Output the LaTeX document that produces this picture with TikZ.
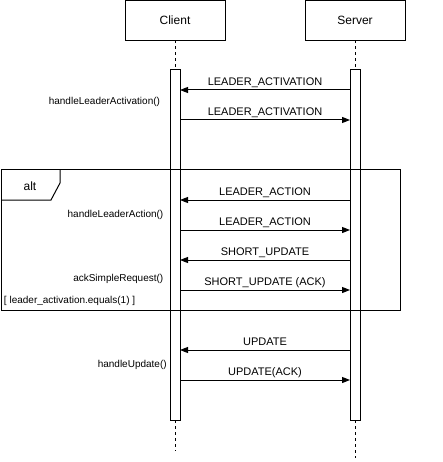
\documentclass[tikz,border=0pt]{standalone}
\usepackage{fontspec}
\setmainfont{Liberation Sans}
\usetikzlibrary{arrows.meta}
\begin{document}
\begin{tikzpicture}[x=1pt,y=-1pt,
  every node/.style={inner sep=0pt,outer sep=0pt},
  actor/.style={draw,line width=1pt,minimum width=100pt,minimum height=40pt,font=\fontsize{12}{14}\selectfont},
  actbar/.style={draw,fill=white,line width=1pt,minimum width=10pt,minimum height=350pt},
  lifeline/.style={line width=1pt,dash pattern=on 3pt off 3pt},
  msg/.style={line width=1pt,-{Triangle[length=8pt,width=6pt]}},
  msglabel/.style={font=\fontsize{11}{13}\selectfont,anchor=base},
  method/.style={font=\fontsize{10}{12}\selectfont,anchor=base east},
  framebox/.style={draw,line width=1pt}]
\useasboundingbox (0,0) rectangle (442,462);
% actors
\node[actor] (client) at (175,20.5) {};
\node[actor] (server) at (355,20.5) {};
\node[anchor=base] (clientlbl) at (175,25) {\fontsize{12}{14}\selectfont Client};
\node[anchor=base] (serverlbl) at (355,25) {\fontsize{12}{14}\selectfont Server};
% activation bars
\node[actbar] (ca) at (175,245) {};
\node[actbar] (sa) at (355,245) {};
% lifelines
\coordinate (cend) at (175,451);
\coordinate (send) at (355,458);
\draw[lifeline] (client.south) -- (ca.north);
\draw[lifeline] (server.south) -- (sa.north);
\draw[lifeline] (ca.south) -- (cend);
\draw[lifeline] (sa.south) -- (send);
% alt frame
\coordinate (fa) at (1,170);
\coordinate (fb) at (400,310);
\draw[framebox] (fa) rectangle (fb);
\coordinate (t1) at (60,170);
\coordinate (t2) at (60,183);
\coordinate (t3) at (51,200);
\coordinate (t4) at (1,200);
\draw[framebox] (t1) -- (t2) -- (t3) -- (t4);
\node[anchor=base,font=\fontsize{12}{14}\selectfont] (altlbl) at (30,190.5) {alt};
\node[anchor=base west,font=\fontsize{10}{12}\selectfont] (guard) at (4,303.5) {[ leader\_activation.equals(1) ]};
% messages
\draw[msg] (sa.west |- 0,90) -- node[msglabel,yshift=4.7pt] (m1) {LEADER\_ACTIVATION} (ca.east |- 0,90);
\draw[msg] (ca.east |- 0,120) -- node[msglabel,yshift=4.7pt] (m2) {LEADER\_ACTIVATION} (sa.west |- 0,120);
\draw[msg] (sa.west |- 0,200) -- node[msglabel,yshift=4.7pt] (m3) {LEADER\_ACTION} (ca.east |- 0,200);
\draw[msg] (ca.east |- 0,230) -- node[msglabel,yshift=4.7pt] (m4) {LEADER\_ACTION} (sa.west |- 0,230);
\draw[msg] (sa.west |- 0,260) -- node[msglabel,yshift=4.7pt] (m5) {SHORT\_UPDATE} (ca.east |- 0,260);
\draw[msg] (ca.east |- 0,290) -- node[msglabel,yshift=4.7pt] (m6) {SHORT\_UPDATE (ACK)} (sa.west |- 0,290);
\draw[msg] (sa.west |- 0,350) -- node[msglabel,yshift=4.7pt] (m7) {UPDATE} (ca.east |- 0,350);
\draw[msg] (ca.east |- 0,380) -- node[msglabel,yshift=4.7pt] (m8) {UPDATE(ACK)} (sa.west |- 0,380);
% method labels
\node[method] (h1) at (160,104.5) {handleLeaderActivation()};
\node[method] (h2) at (163.3,217.5) {handleLeaderAction()};
\node[method] (h3) at (163.3,281.5) {ackSimpleRequest()};
\node[method] (h4) at (166.7,367.5) {handleUpdate()};
\end{tikzpicture}
\end{document}
